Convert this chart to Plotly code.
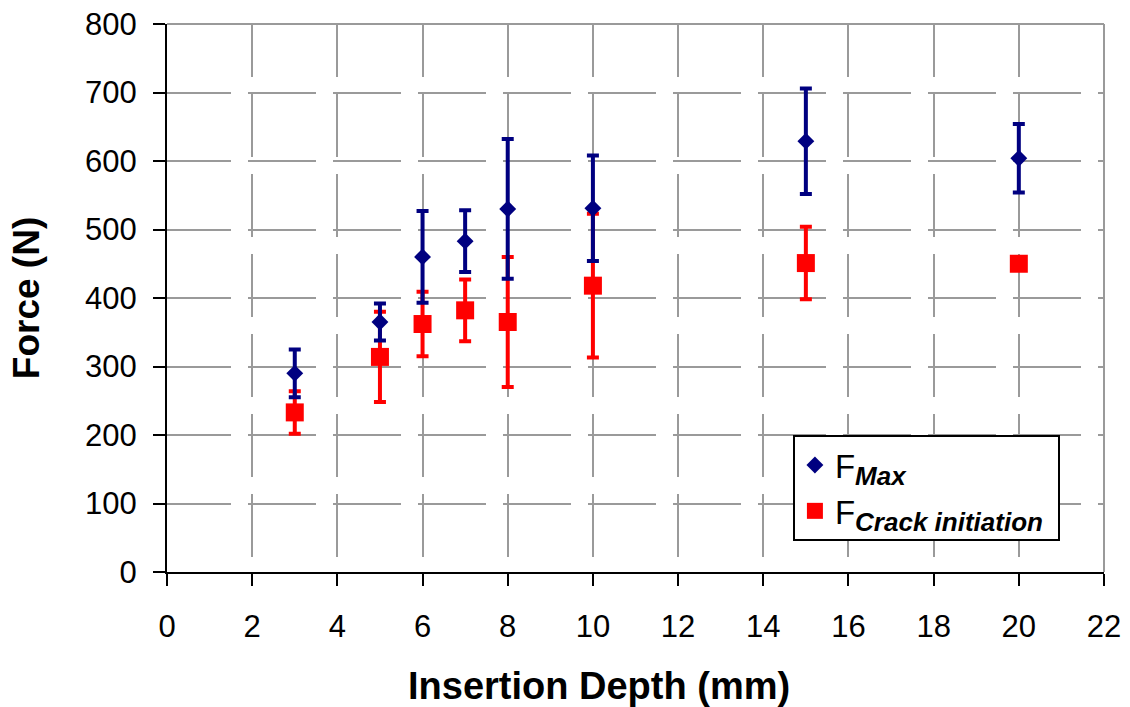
import plotly.graph_objects as go

# ---- data ----
depth = [3, 5, 6, 7, 8, 10, 15, 20]
f_max = [290, 365, 460, 483, 530, 531, 629, 604]
f_max_err = [35, 27, 67, 45, 102, 77, 77, 50]
f_crack = [233, 314, 362, 382, 365, 418, 451, 450]
f_crack_err = [31, 66, 47, 45, 95, 105, 53, 0]

x_ticks = list(range(0, 23, 2))
y_ticks = list(range(0, 801, 100))

NAVY = "#000080"
RED = "#ff0000"
FONT = "Liberation Sans, Arial, sans-serif"

fig = go.Figure()

fig.add_trace(go.Scatter(
    x=depth, y=f_crack, mode="markers",
    name='F<sub><span style="font-size:26px"><b><i>Crack initiation</i></b></span></sub> ',
    marker=dict(symbol="square", size=18, color=RED),
    error_y=dict(type="data", array=f_crack_err, visible=True,
                 color=RED, thickness=4, width=6),
    legendrank=2, legendgroup="b",
))
fig.add_trace(go.Scatter(
    x=depth, y=f_max, mode="markers",
    name='F<sub><span style="font-size:26px"><b><i>Max</i></b></span></sub>',
    marker=dict(symbol="diamond", size=13, color=NAVY),
    error_y=dict(type="data", array=f_max_err, visible=True,
                 color=NAVY, thickness=4, width=6),
    legendrank=1, legendgroup="a",
))

# solid grey frame on top and right of the plot area
fig.add_shape(type="line", xref="x domain", yref="y domain",
              x0=0, x1=1, y0=1, y1=1, line=dict(color="#9a9a9a", width=2))
fig.add_shape(type="line", xref="x domain", yref="y domain",
              x0=1, x1=1, y0=0, y1=1, line=dict(color="#9a9a9a", width=2))

# x-axis title (placed slightly left of the plot centre, as in the reference)
fig.add_annotation(text="<b>Insertion Depth (mm)</b>", xref="paper", yref="paper",
                   x=0.461, y=-0.208, xanchor="center", yanchor="middle",
                   showarrow=False,
                   font=dict(family=FONT, size=38, color="black"))

fig.update_layout(
    width=1130, height=707,
    margin=dict(l=167, r=26, t=24, b=135),
    paper_bgcolor="white", plot_bgcolor="white",
    font=dict(family=FONT, color="black"),
    showlegend=True,
    legend=dict(
        x=0.668, y=0.25, xanchor="left", yanchor="top",
        bgcolor="white", bordercolor="black", borderwidth=2,
        font=dict(family=FONT, size=33, color="black"),
        tracegroupgap=10, traceorder="normal",
    ),
    xaxis=dict(
        range=[0, 22], tickvals=x_ticks, ticktext=[str(v) for v in x_ticks],
        showline=True, linecolor="black", linewidth=2,
        ticks="outside", ticklen=12, tickwidth=2, tickcolor="black",
        tickfont=dict(family=FONT, size=31, color="black"),
        ticklabelstandoff=14,
        showgrid=True, gridcolor="#9a9a9a", gridwidth=2,
        griddash="53px,17px,10px,0px",
        zeroline=False, automargin=False,
    ),
    yaxis=dict(
        range=[0, 800], tickvals=y_ticks, ticktext=[str(v) for v in y_ticks],
        showline=True, linecolor="black", linewidth=2,
        ticks="outside", ticklen=12, tickwidth=2, tickcolor="black",
        tickfont=dict(family=FONT, size=31, color="black"),
        ticklabelstandoff=10,
        showgrid=True, gridcolor="#9a9a9a", gridwidth=2,
        griddash="64px,17px,4px,0px",
        zeroline=False, automargin=False,
        title=dict(text="<b>Force (N)</b>", standoff=34,
                   font=dict(family=FONT, size=37, color="black")),
    ),
)

fig.write_html("out.html")
